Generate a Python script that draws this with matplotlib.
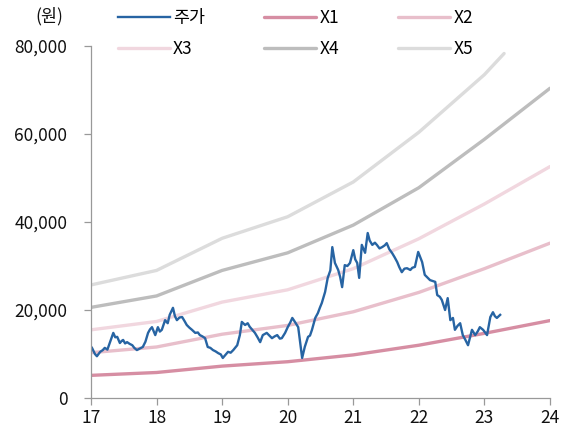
import matplotlib
matplotlib.use('Agg')
from matplotlib import pyplot as plt
from matplotlib.ticker import FuncFormatter

plt.rcParams['font.family'] = ['Noto Sans CJK KR', 'DejaVu Sans']
plt.rcParams['axes.unicode_minus'] = False

# 밴드 (연도별)
band_years = [17, 18, 19, 20, 21, 22, 23, 24]
x1 = [5150, 5800, 7250, 8250, 9800, 12000, 14700, 17600]
x2 = [10300, 11600, 14500, 16500, 19600, 24000, 29400, 35200]
x3 = [15500, 17400, 21800, 24600, 29400, 36200, 44100, 52600]
x4 = [20600, 23200, 29000, 33000, 39300, 47800, 58800, 70400]
x5_years = [17, 18, 19, 20, 21, 22, 23, 23.3]
x5 = [25700, 29000, 36300, 41200, 49100, 60400, 73500, 78300]

# 주가
price_years = [17.015, 17.06, 17.09, 17.14, 17.18, 17.21, 17.25, 17.29, 17.34, 17.37,
               17.40, 17.44, 17.47, 17.49, 17.52, 17.55, 17.59, 17.63, 17.66, 17.70,
               17.75, 17.79, 17.83, 17.87, 17.90, 17.93, 17.98, 18.02, 18.05, 18.08,
               18.13, 18.17, 18.20, 18.25, 18.28, 18.31, 18.35, 18.39, 18.43, 18.46,
               18.50, 18.54, 18.59, 18.63, 18.66, 18.70, 18.74, 18.78, 18.82, 18.86,
               18.90, 18.94, 18.98, 19.01, 19.05, 19.09, 19.13, 19.17, 19.23, 19.27,
               19.30, 19.35, 19.39, 19.42, 19.46, 19.50, 19.54, 19.58, 19.62, 19.68,
               19.72, 19.76, 19.80, 19.84, 19.88, 19.91, 19.96, 20.00, 20.04, 20.07,
               20.11, 20.16, 20.19, 20.22, 20.26, 20.31, 20.34, 20.37, 20.42, 20.46,
               20.49, 20.52, 20.57, 20.61, 20.65, 20.68, 20.72, 20.77, 20.80, 20.83,
               20.87, 20.91, 20.95, 21.00, 21.03, 21.06, 21.09, 21.13, 21.18, 21.22,
               21.25, 21.29, 21.33, 21.36, 21.40, 21.44, 21.48, 21.51, 21.55, 21.59,
               21.63, 21.67, 21.70, 21.74, 21.78, 21.82, 21.87, 21.90, 21.94, 21.99,
               22.05, 22.09, 22.13, 22.17, 22.21, 22.25, 22.28, 22.32, 22.35, 22.40,
               22.44, 22.48, 22.52, 22.55, 22.59, 22.63, 22.67, 22.71, 22.75, 22.81,
               22.86, 22.90, 22.93, 22.98, 23.04, 23.09, 23.13, 23.16, 23.19, 23.24]
price = [11400, 10000, 9500, 10500, 10900, 11400, 11000, 12700, 14800, 13800,
         13900, 12500, 13000, 13200, 12400, 12700, 12300, 12000, 11400, 10900,
         11300, 11600, 12800, 14800, 15600, 16100, 14300, 16100, 15100, 15500,
         17700, 17000, 18900, 20500, 18600, 17700, 18300, 18400, 17400, 16600,
         16000, 15500, 14800, 14900, 14300, 14000, 13600, 11600, 11400, 10900,
         10600, 10200, 9900, 9100, 9800, 10500, 10300, 10900, 12000, 14300,
         17300, 16600, 17000, 16200, 15500, 14800, 13800, 12700, 14300, 14800,
         14200, 13600, 14000, 14300, 13500, 13600, 14800, 16100, 17200, 18200,
         17300, 16100, 12500, 9100, 11600, 13900, 14200, 15500, 18200, 19300,
         20500, 21600, 24100, 27300, 29000, 34300, 30700, 29100, 27500, 25200,
         30200, 30000, 30700, 33600, 31500, 30700, 27300, 34800, 33000, 37500,
         35800, 34800, 35300, 34800, 34000, 34300, 34700, 35200, 33800, 33000,
         32000, 30900, 29800, 28600, 29400, 29500, 29100, 29600, 29800, 33200,
         30900, 28000, 27400, 26800, 26600, 26400, 23400, 23000, 22300, 20000,
         22700, 17700, 18200, 15500, 16400, 17000, 14300, 13200, 12000, 15500,
         14300, 15200, 16100, 15500, 14300, 18400, 19500, 18600, 18200, 18900]

fig = plt.figure(figsize=(5.67, 4.37), dpi=100)
ax = fig.add_axes([0.1605, 0.0892, 0.8095, 0.8055])

ax.plot(band_years, x1, color='#d68ea3', lw=2.4, label='X1', solid_capstyle='round')
ax.plot(band_years, x2, color='#e8bfcb', lw=2.4, label='X2', solid_capstyle='round')
ax.plot(band_years, x3, color='#f1d7df', lw=2.4, label='X3', solid_capstyle='round')
ax.plot(band_years, x4, color='#bdbdbd', lw=2.4, label='X4', solid_capstyle='round')
ax.plot(x5_years, x5, color='#dcdcdc', lw=2.4, label='X5', solid_capstyle='round')
ax.plot(price_years, price, color='#2764a3', lw=1.7, label='주가')

ax.set_xlim(17, 24)
ax.set_ylim(0, 80000)
ax.set_xticks(range(17, 25))
ax.set_yticks(range(0, 80001, 20000))
ax.yaxis.set_major_formatter(FuncFormatter(lambda v, p: '{:,.0f}'.format(v)))

for s in ['top', 'right']:
    ax.spines[s].set_visible(False)
for s in ['left', 'bottom']:
    ax.spines[s].set_color('#999999')
    ax.spines[s].set_linewidth(0.9)
ax.tick_params(axis='both', colors='#999999', labelcolor='#111111', labelsize=12.5,
               length=5, width=0.9, direction='out')
ax.tick_params(axis='y', pad=12)
ax.tick_params(axis='x', pad=3)

h, l = ax.get_legend_handles_labels()
d = dict(zip(l, h))
order = ['주가', 'X3', 'X1', 'X4', 'X2', 'X5']
fig.legend([d[k] for k in order], order, ncol=3, loc='upper left',
           bbox_to_anchor=(0.195, 0.995), frameon=False, fontsize=12.5,
           handlelength=3.0, handletextpad=0.2, columnspacing=3.4,
           labelspacing=0.75, borderaxespad=0)

fig.text(0.112, 0.962, '(원)', ha='right', va='center', fontsize=12.5, color='#111111')

fig.savefig('out.png', dpi=100)
